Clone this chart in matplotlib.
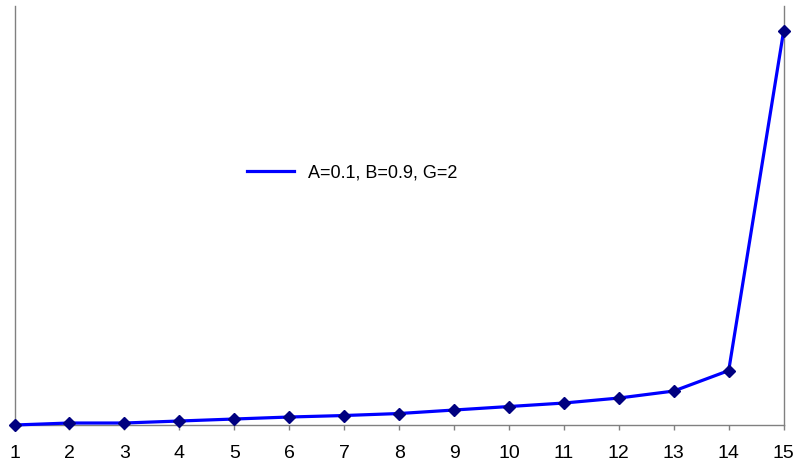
import numpy as np
import matplotlib
matplotlib.use("Agg")
import matplotlib.pyplot as plt

plt.rcParams['font.family'] = ['Liberation Sans', 'DejaVu Sans']

# values (arbitrary units, no y labels in the original)
periods = [1, 2, 3, 4, 5, 6, 7, 8, 9, 10, 11, 12, 13, 14, 15]
values = [0, 2, 2, 4, 6, 8, 9.5, 11.5, 15, 18.5, 22, 27, 34, 54.5, 394.5]
label = "A=0.1, B=0.9, G=2"

fig = plt.figure(figsize=(7.98, 4.69), dpi=100)
ax = fig.add_axes([0.0182, 0.0938, 0.9638, 0.8934])

line, = ax.plot(periods, values, color="#0000FF", lw=2.3, label=label, zorder=3,
                clip_on=False)
ax.plot(periods, values, ls="none", marker="D", ms=6, color="#000080",
        markeredgecolor="#000080", zorder=4, clip_on=False)

ax.set_xlim(1, 15)
ax.set_ylim(0, 419.5)
ax.set_xticks(periods)
ax.set_yticks([])
ax.tick_params(axis="x", direction="out", length=3.6, width=1, color="#808080",
               labelsize=14, pad=11)
for s in ["left", "right", "bottom"]:
    ax.spines[s].set_color("#808080")
    ax.spines[s].set_linewidth(1.0)
ax.spines["top"].set_visible(False)

fig.legend(handles=[line], loc="center left", bbox_to_anchor=(0.3095, 0.632),
           frameon=False, fontsize=13, handlelength=2.6, handletextpad=0.8,
           borderpad=0, borderaxespad=0)

fig.savefig("out.png", dpi=100)
